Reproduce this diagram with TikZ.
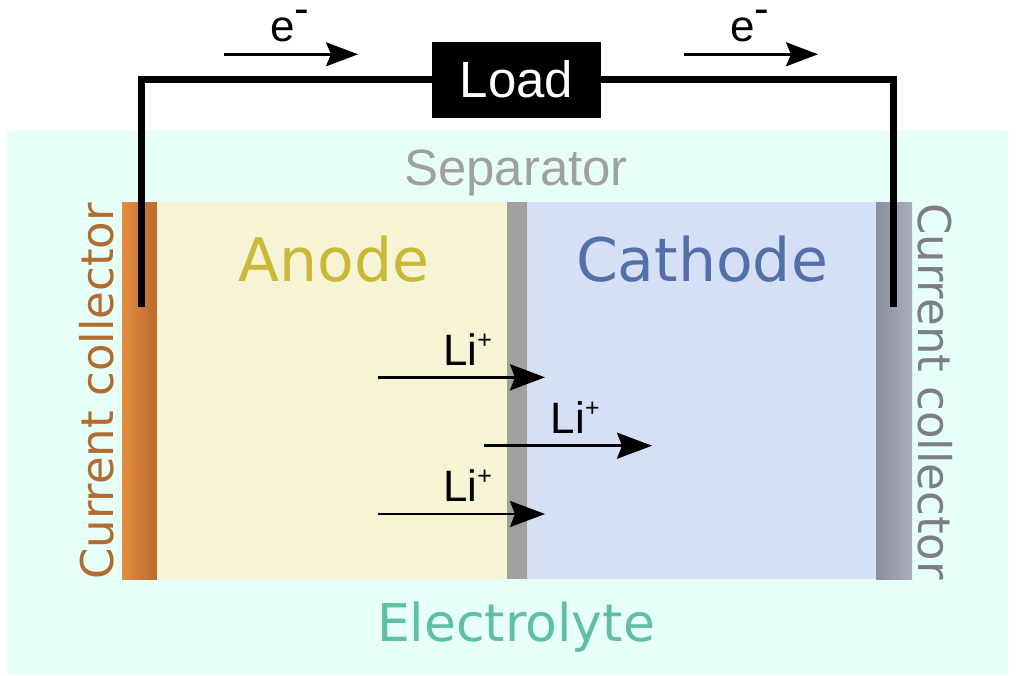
\documentclass[tikz,border=0pt]{standalone}
\usepackage{fontspec}
\setmainfont{Liberation Sans}
\newfontfamily\dv{DejaVu Sans}
\usetikzlibrary{arrows.meta}
\definecolor{elecbg}{HTML}{E6FFF8}
\definecolor{anodefill}{HTML}{F7F4D6}
\definecolor{cathfill}{HTML}{D5DFF6}
\definecolor{sepfill}{HTML}{A0A0A0}
\definecolor{ccLa}{HTML}{E38C3D}
\definecolor{ccLb}{HTML}{B86A2E}
\definecolor{ccRa}{HTML}{8A8E9E}
\definecolor{ccRb}{HTML}{ABAEBA}
\definecolor{anodetxt}{HTML}{C9B936}
\definecolor{cathtxt}{HTML}{5470A9}
\definecolor{septxt}{HTML}{A0A0A0}
\definecolor{electxt}{HTML}{5FBFA3}
\definecolor{ccLtxt}{HTML}{B36C30}
\definecolor{ccRtxt}{HTML}{7D7D85}
\tikzset{
  wire/.style={line width=7.5pt, black},
  ionarrow/.style={line width=2.6pt, -{Stealth[length=35pt, width=26pt, inset=5pt]}},
  earrow/.style={line width=2.4pt, -{Stealth[length=32pt, width=24pt, inset=5pt]}},
  lbl/.style={inner sep=0pt, anchor=base},
  ionlbl/.style={lbl, font=\fontsize{44}{44}\selectfont},
  elbl/.style={lbl, font=\fontsize{44}{44}\selectfont},
  bigdv/.style={lbl, font=\dv\fontsize{60}{60}\selectfont},
  ccdv/.style={lbl, font=\dv\fontsize{45}{45}\selectfont},
}
\newcommand{\liplus}{Li\raisebox{17pt}{\fontsize{25}{25}\selectfont +}}
\newcommand{\eminus}{e\raisebox{18pt}{-}}
\begin{document}
\begin{tikzpicture}[x=1pt, y=-1pt]
\useasboundingbox (0,0) rectangle (1016,675);
% electrolyte background
\fill[elecbg] (7,129.5) rectangle (1008,674);
% collectors, electrodes, separator
\shade[left color=ccLa, right color=ccLb] (122,202) rectangle (157,579);
\fill[anodefill] (157,202) rectangle (507,579);
\fill[sepfill] (507,202) rectangle (527,579);
\fill[cathfill] (527,202) rectangle (876,579);
\shade[left color=ccRa, right color=ccRb] (876,202) rectangle (912,579);
% labels of regions
\node[lbl, font=\fontsize{51}{51}\selectfont, text=septxt] (sep) at (516,185.7) {Separator};
\node[bigdv, text=anodetxt] (anode) at (334,281.7) {Anode};
\node[bigdv, text=cathtxt] (cathode) at (702,281.7) {Cathode};
\node[lbl, font=\dv\fontsize{52}{52}\selectfont, text=electxt] (electrolyte) at (516,641.7) {Electrolyte};
\node[ccdv, text=ccLtxt, rotate=90] (ccL) at (113,391.5) {Current collector};
\node[ccdv, text=ccRtxt, rotate=-90] (ccR) at (918,391.5) {Current collector};
% load and wire
\node[fill=black, text=white, minimum width=169pt, minimum height=76pt, inner sep=0pt,
      font=\fontsize{51}{51}\selectfont] (load) at (516.5,79.5) {Load};
\coordinate (wl) at (141.5,307);
\coordinate (wr) at (893.5,307);
\draw[wire] (wl) |- (load.west);
\draw[wire] (load.east) -| (wr);
% electron arrows
\coordinate (e1s) at (224,54.3);
\coordinate (e1e) at (358,54.3);
\coordinate (e2s) at (684,54.3);
\coordinate (e2e) at (818,54.3);
\draw[earrow] (e1s) -- (e1e);
\draw[earrow] (e2s) -- (e2e);
\node[elbl] (e1) at (290,41.7) {\eminus};
\node[elbl] (e2) at (750,41.7) {\eminus};
% lithium ion arrows
\coordinate (i1s) at (378,377.3);
\coordinate (i1e) at (545,377.3);
\coordinate (i2s) at (484,445.7);
\coordinate (i2e) at (652,445.7);
\coordinate (i3s) at (378,514);
\coordinate (i3e) at (545,514);
\draw[ionarrow] (i1s) -- (i1e);
\draw[ionarrow] (i2s) -- (i2e);
\draw[ionarrow] (i3s) -- (i3e);
\node[ionlbl] (li1) at (467.5,365) {\liplus};
\node[ionlbl] (li2) at (575.2,433.3) {\liplus};
\node[ionlbl] (li3) at (467.5,501.7) {\liplus};
\end{tikzpicture}
\end{document}
